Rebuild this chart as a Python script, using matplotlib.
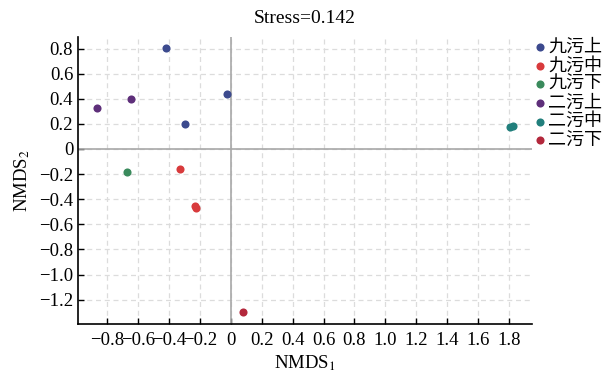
import matplotlib.pyplot as plt

plt.rcParams['font.family'] = ['Liberation Serif', 'Noto Sans CJK SC']
plt.rcParams['mathtext.fontset'] = 'stix'

groups = ["九污上", "九污中", "九污下", "二污上", "二污中", "二污下"]
colors = ["#3c4a8e", "#d83a3c", "#3a8a5c", "#5e2f7a", "#217f7c", "#b3283c"]

nmds1 = {
    "九污上": [-0.42, -0.024, -0.30],
    "九污中": [-0.33, -0.235, -0.225],
    "九污下": [-0.67],
    "二污上": [-0.865, -0.647],
    "二污中": [1.81, 1.825],
    "二污下": [0.076],
}
nmds2 = {
    "九污上": [0.807, 0.438, 0.196],
    "九污中": [-0.157, -0.455, -0.47],
    "九污下": [-0.183],
    "二污上": [0.329, 0.398],
    "二污中": [0.172, 0.185],
    "二污下": [-1.30],
}
stress = 0.142

xticks = [-0.8, -0.6, -0.4, -0.2, 0, 0.2, 0.4, 0.6, 0.8, 1.0, 1.2, 1.4, 1.6, 1.8]
xtick_labels = ["\u22120.8", "\u22120.6", "\u22120.4", "\u22120.2", "0", "0.2", "0.4", "0.6",
                "0.8", "1.0", "1.2", "1.4", "1.6", "1.8"]
yticks = [0.8, 0.6, 0.4, 0.2, 0, -0.2, -0.4, -0.6, -0.8, -1.0, -1.2]
ytick_labels = ["0.8", "0.6", "0.4", "0.2", "0", "\u22120.2", "\u22120.4", "\u22120.6",
                "\u22120.8", "\u22121.0", "\u22121.2"]

fig = plt.figure(figsize=(6.11, 3.79), dpi=100)
ax = fig.add_axes([78 / 611, 1 - 324 / 379, (532 - 78) / 611, (324 - 37) / 379])

ax.axhline(0, color="#a8a8a8", lw=1.2, zorder=1)
ax.axvline(0, color="#a8a8a8", lw=1.2, zorder=1)

for g, c in zip(groups, colors):
    ax.scatter(nmds1[g], nmds2[g], s=34, color=c, label=g, zorder=3, linewidths=0)

ax.set_xlim(-0.99, 1.95)
ax.set_ylim(-1.394, 0.892)
ax.set_xticks(xticks)
ax.set_xticklabels(xtick_labels)
ax.set_yticks(yticks)
ax.set_yticklabels(ytick_labels)
ax.tick_params(axis="x", pad=6)
ax.tick_params(labelsize=13.5, length=4, width=1, direction="in")
ax.grid(True, color="#dcdcdc", ls=(0, (4, 3)), lw=0.9)
ax.set_axisbelow(True)
for side in ["top", "right"]:
    ax.spines[side].set_visible(False)
for side in ["left", "bottom"]:
    ax.spines[side].set_linewidth(1.2)

ax.set_title(f"Stress={stress}", fontsize=14, pad=10)
ax.set_xlabel("NMDS$_1$", fontsize=13.5, labelpad=3)
ax.set_ylabel("NMDS$_2$", fontsize=13.5, labelpad=5)

leg = ax.legend(loc="upper left", bbox_to_anchor=(1.0, 0.998), frameon=False,
                handletextpad=0.05, labelspacing=0.04, borderaxespad=0, borderpad=0,
                handlelength=0.85, prop={"family": ["Noto Sans CJK SC"], "size": 13})

fig.savefig("out.png", dpi=100)
